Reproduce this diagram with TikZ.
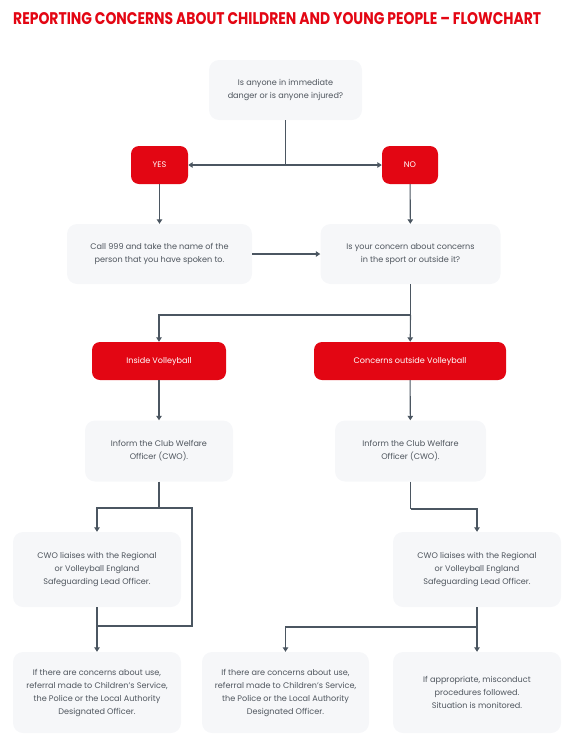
\documentclass[tikz,border=0pt]{standalone}
\usepackage{fontspec}
\setmainfont{Poppins}
\usepackage{tikz}
\usetikzlibrary{arrows.meta}

\definecolor{flowred}{HTML}{E30613}
\definecolor{flowgray}{HTML}{F6F7F9}
\definecolor{flowline}{HTML}{4B5661}
\definecolor{flowtext}{HTML}{4F565E}

\begin{document}
\begin{tikzpicture}[x=1pt,y=-1pt,
		every node/.style={font=\fontsize{8.1}{13}\selectfont,align=center,inner sep=0pt},
		infobox/.style={fill=flowgray,rounded corners=10pt,text=flowtext},
		choice/.style={fill=flowred,rounded corners=8pt,text=white,minimum height=38pt},
		link/.style={draw=flowline,line width=1.1pt},
		arr/.style={link,-{Triangle[width=5.5pt,length=4.5pt]}}]
		\useasboundingbox (0,0) rectangle (569,747);
		\node[anchor=north west,text=flowred] (title) at (13,12)
			{\resizebox{528pt}{12pt}{\bfseries REPORTING CONCERNS ABOUT CHILDREN AND YOUNG PEOPLE – FLOWCHART}};
		% questions and answers
		\node[infobox,minimum width=153pt,minimum height=60pt] (danger) at (285.5,90)
			{Is anyone in immediate\\danger or is anyone injured?};
		\node[choice,minimum width=57pt] (yes) at (159.5,165) {YES};
		\node[choice,minimum width=56pt] (no) at (410,165) {NO};
		\node[infobox,minimum width=185pt,minimum height=60pt] (call) at (159.5,254)
			{Call 999 and take the name of the\\person that you have spoken to.};
		\node[infobox,minimum width=180pt,minimum height=60pt] (sport) at (410.5,254)
			{Is your concern about concerns\\in the sport or outside it?};
		\node[choice,minimum width=134pt] (inside) at (159,361) {Inside Volleyball};
		\node[choice,minimum width=192pt] (outside) at (410,361) {Concerns outside Volleyball};
		\node[infobox,minimum width=148pt,minimum height=61pt] (cwoinL) at (159,451)
			{Inform the Club Welfare\\Officer (CWO).};
		\node[infobox,minimum width=151pt,minimum height=61pt] (cwoinR) at (410.5,451)
			{Inform the Club Welfare\\Officer (CWO).};
		\node[infobox,minimum width=168pt,minimum height=75pt] (liaiseL) at (97,569.5)
			{CWO liaises with the Regional\\or Volleyball England\\Safeguarding Lead Officer.};
		\node[infobox,minimum width=168pt,minimum height=75pt] (liaiseR) at (477,569.5)
			{CWO liaises with the Regional\\or Volleyball England\\Safeguarding Lead Officer.};
		\node[infobox,minimum width=168pt,minimum height=81pt] (referL) at (97,692.5)
			{If there are concerns about use,\\referral made to Children’s Service,\\the Police or the Local Authority\\Designated Officer.};
		\node[infobox,minimum width=167pt,minimum height=81pt] (referM) at (285.5,692.5)
			{If there are concerns about use,\\referral made to Children’s Service,\\the Police or the Local Authority\\Designated Officer.};
		\node[infobox,minimum width=168pt,minimum height=81pt] (monitor) at (477,692.5)
			{If appropriate, misconduct\\procedures followed.\\Situation is monitored.};
		% connectors
		\coordinate (fork1) at (danger |- yes);
		\coordinate (fork2) at (410.5,315);
		\coordinate (fork3) at (159,508);
		\coordinate (bend3) at (192,626);
		\coordinate (fork4) at (410.5,509);
		\coordinate (fork5) at (477,627);
		\draw[link] (danger) -- (fork1);
		\draw[arr] (fork1) -- (yes);
		\draw[arr] (fork1) -- (no);
		\draw[arr] (yes) -- (call);
		\draw[arr] (no) -- (sport);
		\draw[arr] (call) -- (sport);
		\draw[link] (sport) -- (fork2);
		\draw[arr] (fork2) -| (inside);
		\draw[arr] (fork2) -- (outside);
		\draw[arr] (inside) -- (cwoinL);
		\draw[arr] (outside) -- (cwoinR);
		\draw[link] (cwoinL) -- (fork3);
		\draw[arr] (fork3) -| (liaiseL);
		\draw[link] (fork3) -| (bend3) -- (bend3 -| liaiseL);
		\draw[arr] (liaiseL) -- (referL);
		\draw[link] (cwoinR) -- (fork4);
		\draw[arr] (fork4) -| (liaiseR);
		\draw[arr] (liaiseR) -- (monitor);
		\draw[arr] (fork5) -| (referM);
\end{tikzpicture}
\end{document}
